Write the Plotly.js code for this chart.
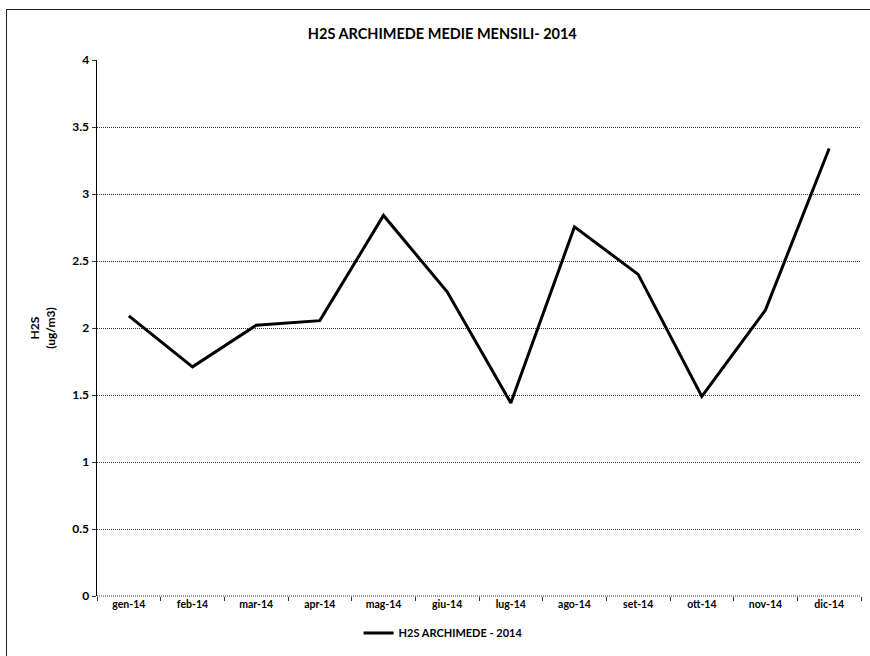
<!DOCTYPE html>
<html>
<head>
<meta charset="utf-8">
<script src="https://cdn.plot.ly/plotly-3.0.1.min.js"></script>
<style>
html,body{margin:0;padding:0;background:#fff;overflow:hidden;}
#wrap{position:relative;width:870px;height:656px;overflow:hidden;}
#chart{position:absolute;left:0;top:0;width:870px;height:656px;}
#frame{position:absolute;left:6px;top:9px;width:900px;height:700px;border-top:1.5px solid #222;border-left:1.5px solid #222;pointer-events:none;}
</style>
</head>
<body>
<div id="wrap">
<div id="chart"></div>
<div id="frame"></div>
</div>
<script>
const months = ["gen-14","feb-14","mar-14","apr-14","mag-14","giu-14","lug-14","ago-14","set-14","ott-14","nov-14","dic-14"];
const h2sValues = [2.09, 1.71, 2.02, 2.055, 2.84, 2.27, 1.44, 2.755, 2.40, 1.49, 2.135, 3.34];
const yTicks = [0, 0.5, 1, 1.5, 2, 2.5, 3, 3.5, 4];
const yTickLabels = ["0", "0.5", "1", "1.5", "2", "2.5", "3", "3.5", "4"];

const FONT = "Lato, 'Open Sans', 'Liberation Sans', sans-serif";

const trace = {
  x: months,
  y: h2sValues,
  type: "scatter",
  mode: "lines",
  name: "H2S ARCHIMEDE - 2014",
  line: {color: "#000000", width: 3}
};

const layout = {
  width: 870,
  height: 656,
  margin: {l: 97, r: 9, t: 60, b: 60},
  paper_bgcolor: "rgba(0,0,0,0)",
  plot_bgcolor: "rgba(0,0,0,0)",
  font: {family: FONT, color: "#000000", size: 11, weight: "bold"},
  title: {
    text: "H2S ARCHIMEDE MEDIE MENSILI- 2014",
    font: {family: FONT, size: 14.5, color: "#000", weight: "bold"},
    x: 0.452, xref: "paper", xanchor: "center",
    y: 0.948, yref: "container", yanchor: "middle"
  },
  xaxis: {
    type: "category",
    range: [-0.5, 11.5],
    showgrid: false,
    showline: false,
    zeroline: false,
    ticks: "outside",
    tickson: "boundaries",
    ticklen: 4,
    tickcolor: "#333",
    tickfont: {family: FONT, size: 10.5, color: "#000", weight: "bold"},
    fixedrange: true
  },
  yaxis: {
    range: [0, 4],
    tickvals: yTicks,
    ticktext: yTickLabels,
    showgrid: true,
    gridcolor: "#333",
    griddash: "1px,1px",
    gridwidth: 1,
    zeroline: false,
    showline: true,
    linecolor: "#000",
    linewidth: 1.5,
    ticks: "outside",
    ticklen: 4,
    tickcolor: "#333",
    tickfont: {family: FONT, size: 12, color: "#000", weight: "bold"},
    title: {
      text: "H2S<br>(ug/m3)",
      font: {family: FONT, size: 12, color: "#000", weight: "bold"},
      standoff: 14
    },
    fixedrange: true
  },
  showlegend: true,
  legend: {
    orientation: "h",
    x: 0.453, xanchor: "center",
    y: -0.069, yanchor: "middle",
    font: {family: FONT, size: 11, color: "#000", weight: "bold"},
    bgcolor: "rgba(0,0,0,0)"
  },
  shapes: [
    {
      type: "line", xref: "paper", yref: "paper",
      x0: 0, x1: 1, y0: 0, y1: 0,
      line: {color: "#333", width: 1, dash: "1px,1px"}
    }
  ]
};

Plotly.newPlot("chart", [trace], layout, {displayModeBar: false, staticPlot: true});
</script>
</body>
</html>
